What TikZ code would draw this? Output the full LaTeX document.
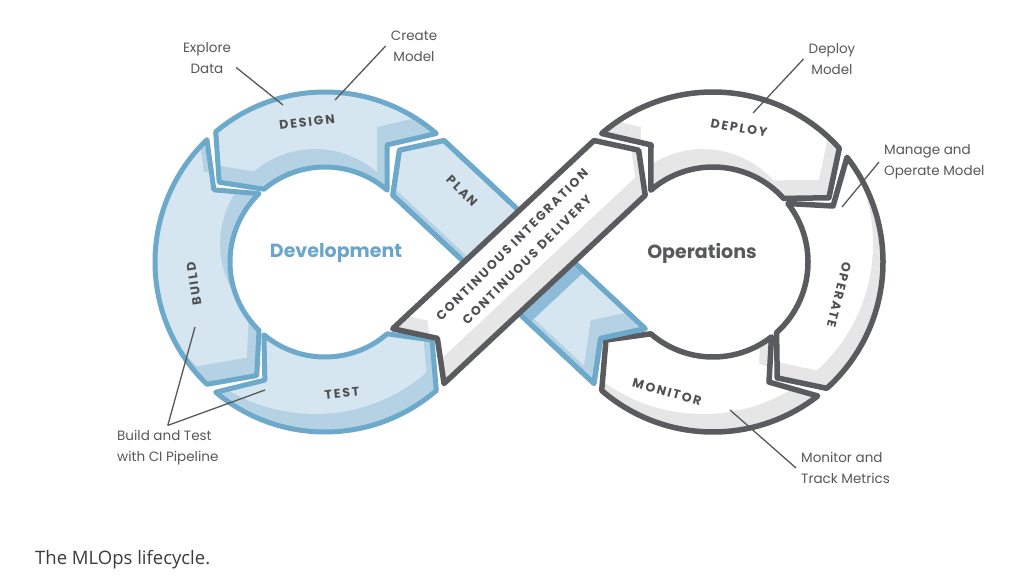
\documentclass[tikz,border=0pt]{standalone}
\usepackage{fontspec}
\setmainfont{Poppins}
\newfontfamily\capfont{Open Sans}
\newfontfamily\segfont[LetterSpace=15]{Poppins}
\usepackage{tikz}
\definecolor{devfill}{HTML}{D5E6F0}
\definecolor{devshade}{HTML}{B4D2E3}
\definecolor{devline}{HTML}{6CA9CA}
\definecolor{devcast}{HTML}{8EBCD8}
\definecolor{devtext}{HTML}{6AA6C8}
\definecolor{opsfill}{HTML}{FFFFFF}
\definecolor{opsshade}{HTML}{E6E6E7}
\definecolor{opsline}{HTML}{5A5B5E}
\definecolor{opstext}{HTML}{58595B}
\definecolor{labeltext}{HTML}{4F5053}
\definecolor{notetext}{HTML}{57585A}
\definecolor{captext}{HTML}{3C3C3C}

\newcommand{\ringpath}[5]{%
  \pgfmathsetmacro\rs{sign(#5-#4)}%
  \pgfmathsetmacro\rh{#5+13*\rs}%
  \pgfmathsetmacro\rt{#4+13*\rs}%
  \expandafter\xdef\csname #1\endcsname{([shift={(#2,#3)}]#4:170) arc[start angle=#4, end angle=#5, radius=170] -- ([shift={(#2,#3)}]\rh:132.5) -- ([shift={(#2,#3)}]#5:95) arc[start angle=#5, end angle=#4, radius=95] -- ([shift={(#2,#3)}]\rt:132.5) -- cycle}}
\newcommand{\bandpath}[5]{%
  \pgfmathsetmacro\bux{(#4-#2)/veclen(#4-#2,#5-#3)}%
  \pgfmathsetmacro\buy{(#5-#3)/veclen(#4-#2,#5-#3)}%
  \expandafter\xdef\csname #1\endcsname{({#2-37.5*(\buy)},{#3+37.5*(\bux)}) -- ({#4-37.5*(\buy)},{#5+37.5*(\bux)}) -- ({#4+26*(\bux)},{#5+26*(\buy)}) -- ({#4+37.5*(\buy)},{#5-37.5*(\bux)}) -- ({#2+37.5*(\buy)},{#3-37.5*(\bux)}) -- ({#2+26*(\bux)},{#3+26*(\buy)}) -- cycle}}
\newcommand{\paintseg}[4]{%
  \begin{scope}
    \clip #1;
    \fill[#3] #1;
    \fill[#2, shift={(-10,-18)}] #1;
  \end{scope}
  \draw[#4] #1;}

\begin{document}
\begin{tikzpicture}[x=1pt, y=-1pt]
    \tikzstyle{devedge} = [draw=devline, line width=5pt, line join=round]
    \tikzstyle{opsedge} = [draw=opsline, line width=5.5pt, line join=round]
    \tikzstyle{seglabel} = [font=\segfont\bfseries\fontsize{12.5}{17}\selectfont, text=labeltext, inner sep=1pt]
    \tikzstyle{looptitle} = [font=\bfseries\fontsize{19}{23}\selectfont, inner sep=1pt]
    \tikzstyle{note} = [font=\fontsize{13.5}{21}\selectfont, text=notetext, align=center, inner sep=5pt]
    \tikzstyle{noteline} = [draw=notetext, line width=1.3pt]

    \fill[white] (0,0) rectangle (1035,588);
    \useasboundingbox (0,0) rectangle (1035,588);

    \ringpath{designpath}{325}{262}{310.9}{230}
    \ringpath{buildpath}{325}{262}{226}{134}
    \ringpath{testpath}{325}{262}{130}{49.1}
    \ringpath{deploypath}{713}{262}{229.1}{318}
    \ringpath{operatepath}{713}{262}{322}{408}
    \ringpath{monitorpath}{713}{262}{412}{490.9}
    \bandpath{planpath}{619.6}{356.1}{418.4}{167.9}
    \bandpath{cipath}{418.4}{356.1}{619.6}{167.9}

    \paintseg{\designpath}{devfill}{devshade}{devedge}
    \paintseg{\buildpath}{devfill}{devshade}{devedge}
    \paintseg{\testpath}{devfill}{devshade}{devedge}
    \paintseg{\deploypath}{opsfill}{opsshade}{opsedge}
    \paintseg{\operatepath}{opsfill}{opsshade}{opsedge}
    \paintseg{\monitorpath}{opsfill}{opsshade}{opsedge}
    \paintseg{\planpath}{devfill}{devshade}{devedge}
    \begin{scope}
        \clip \planpath;
        \fill[devcast, shift={(9,11)}] \cipath;
    \end{scope}
    \draw[devedge] \planpath;
    \paintseg{\cipath}{opsfill}{opsshade}{opsedge}

    \node[looptitle, text=devtext] (devtitle) at (336,253) {Development};
    \node[looptitle, text=opstext] (opstitle) at (702,253) {Operations};

    \node[seglabel, rotate=7] (designlbl) at (307,122) {DESIGN};
    \node[seglabel, rotate=99] (buildlbl) at (194,284) {BUILD};
    \node[seglabel, rotate=6] (testlbl) at (342,393) {TEST};
    \node[seglabel, rotate=-45] (planlbl) at (462,191) {PLAN};
    \node[seglabel, rotate=45] (cilbl) at (512,245) {CONTINUOUS INTEGRATION};
    \node[seglabel, rotate=45] (cdlbl) at (527,260) {CONTINUOUS DELIVERY};
    \node[seglabel, rotate=-10] (deploylbl) at (739,128) {DEPLOY};
    \node[seglabel, rotate=-104] (operatelbl) at (839,295) {OPERATE};
    \node[seglabel, rotate=-16] (monitorlbl) at (667,392) {MONITOR};

    \node[note] (explore) at (207,58) {Explore\\Data};
    \node[note] (create) at (414,46) {Create\\Model};
    \node[note] (deploynote) at (832,59) {Deploy\\Model};
    \node[note, align=left, anchor=west] (manage) at (879,162) {Manage and\\Operate Model};
    \node[note, align=left, anchor=west] (monitornote) at (796,468) {Monitor and\\Track Metrics};
    \node[note, align=left, anchor=west] (buildnote) at (112,448) {Build and Test\\with CI Pipeline};

    \coordinate (designpt) at (283,105);
    \coordinate (modelpt) at (335,100);
    \coordinate (deploypt) at (753,113);
    \coordinate (operatept) at (842,207);
    \coordinate (monitorpt) at (730,410);
    \coordinate (buildpt) at (195,327);
    \coordinate (testpt) at (265,390);

    \path [noteline] (explore.-18) -- (designpt);
    \path [noteline] (create.west) -- (modelpt);
    \path [noteline] (deploynote.west) -- (deploypt);
    \path [noteline] (manage.west) -- (operatept);
    \path [noteline] (monitornote.west) -- (monitorpt);
    \path [noteline] (buildnote.north) -- (buildpt);
    \path [noteline] (buildnote.north) -- (testpt);

    \node[anchor=west, font=\capfont\fontsize{18.5}{22}\selectfont, text=captext, inner sep=0pt] (caption) at (35,560) {The MLOps lifecycle.};
\end{tikzpicture}
\end{document}
